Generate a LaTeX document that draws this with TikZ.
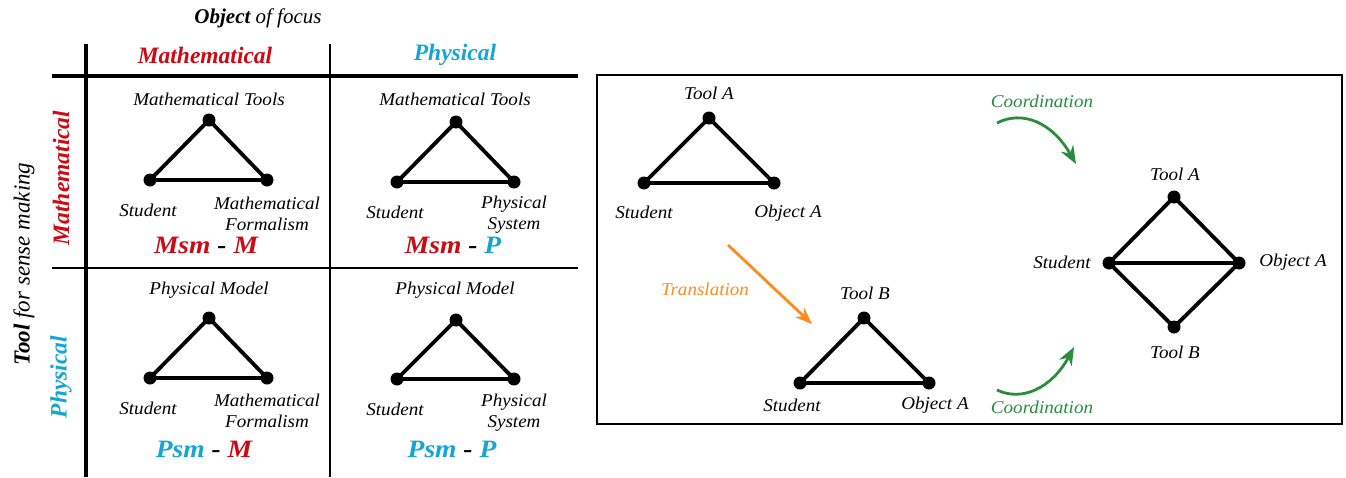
\documentclass[tikz,border=0pt]{standalone}
\usepackage{fontspec}
\setmainfont{Liberation Serif}
\usetikzlibrary{arrows.meta}
\definecolor{mred}{HTML}{CC0A14}
\definecolor{mcyan}{HTML}{14A5D2}
\definecolor{mgreen}{HTML}{2A8C3C}
\definecolor{morange}{HTML}{FF8A1E}
\tikzset{
  dot/.style={circle,fill=black,inner sep=0pt,minimum size=13pt},
  edge/.style={line width=3.8pt,line join=round},
  lbl/.style={font=\fontsize{18}{21}\selectfont\itshape,inner sep=0pt,align=center,xscale=1.06},
  code/.style={font=\fontsize{25}{28}\selectfont\bfseries\itshape,inner sep=0pt,xscale=1.1},
  head/.style={font=\fontsize{23.5}{27}\selectfont\bfseries\itshape,inner sep=0pt},
  thickrule/.style={line width=3.8pt},
  thinrule/.style={line width=2pt},
  coord/.style={mgreen,line width=2.8pt,-{Stealth[length=18pt,width=14pt]}},
  trans/.style={morange,line width=2.8pt,-{Stealth[length=17pt,width=13pt]}}
}
\begin{document}
\begin{tikzpicture}[x=1pt,y=-1pt]
\useasboundingbox (0,0) rectangle (1346,477);
% headers
\node[font=\fontsize{21}{24}\selectfont\itshape,inner sep=0pt] (oof) at (258,18) {\textbf{Object} of focus};
\node[head,mred] (hm) at (205,55) {Mathematical};
\node[head,mcyan] (hp) at (455,55) {Physical};
\node[font=\fontsize{23}{26}\selectfont\itshape,inner sep=0pt,rotate=90] (tfs) at (24,264) {\textbf{Tool} for sense making};
\node[head,mred,rotate=90] (vm) at (61,178) {Mathematical};
\node[head,mcyan,rotate=90] (vp) at (61,377) {Physical};
% grid
\draw[thickrule] (52,76) -- (578,76);
\draw[thickrule] (86,44) -- (86,477);
\draw[thinrule] (52,268) -- (578,268);
\draw[thinrule] (330,44) -- (330,477);
% cell 1
\node[lbl] (l1t) at (209,99) {Mathematical Tools};
\node[dot] (a1) at (209,120) {};
\node[dot] (b1) at (150,180) {};
\node[dot] (c1) at (267,180) {};
\draw[edge] (a1.center) -- (b1.center) -- (c1.center) -- cycle;
\node[lbl] (l1s) at (148,210) {Student};
\node[lbl] (l1o) at (267,214) {Mathematical\\Formalism};
\node[code] (k1) at (206,245) {\textcolor{mred}{Msm} - \textcolor{mred}{M}};
% cell 2
\node[lbl] (l2t) at (455,99) {Mathematical Tools};
\node[dot] (a2) at (456,122) {};
\node[dot] (b2) at (397,182) {};
\node[dot] (c2) at (514,182) {};
\draw[edge] (a2.center) -- (b2.center) -- (c2.center) -- cycle;
\node[lbl] (l2s) at (395,212) {Student};
\node[lbl] (l2o) at (514,215) {Physical\\System};
\node[code] (k2) at (453,245) {\textcolor{mred}{Msm} - \textcolor{mcyan}{P}};
% cell 3
\node[lbl] (l3t) at (209,290) {Physical Model};
\node[dot] (a3) at (209,318) {};
\node[dot] (b3) at (150,378) {};
\node[dot] (c3) at (267,378) {};
\draw[edge] (a3.center) -- (b3.center) -- (c3.center) -- cycle;
\node[lbl] (l3s) at (148,408) {Student};
\node[lbl] (l3o) at (267,411) {Mathematical\\Formalism};
\node[code] (k3) at (204,449) {\textcolor{mcyan}{Psm} - \textcolor{mred}{M}};
% cell 4
\node[lbl] (l4t) at (455,290) {Physical Model};
\node[dot] (a4) at (456,320) {};
\node[dot] (b4) at (397,379) {};
\node[dot] (c4) at (514,379) {};
\draw[edge] (a4.center) -- (b4.center) -- (c4.center) -- cycle;
\node[lbl] (l4s) at (395,409) {Student};
\node[lbl] (l4o) at (514,413) {Physical\\System};
\node[code] (k4) at (452,449) {\textcolor{mcyan}{Psm} - \textcolor{mcyan}{P}};
% right box
\draw[line width=2.4pt] (597,75) rectangle (1342,424);
% triangle A
\node[dot] (ta) at (709,118) {};
\node[dot] (sa) at (644,183) {};
\node[dot] (oa) at (774,183) {};
\draw[edge] (ta.center) -- (sa.center) -- (oa.center) -- cycle;
\node[lbl] (lta) at (709,93) {Tool A};
\node[lbl] (lsa) at (644,212) {Student};
\node[lbl] (loa) at (788,213) {Object A};
% translation
\coordinate (trS) at (728,245);
\coordinate (trE) at (812,324);
\draw[trans] (trS) -- (trE);
\node[lbl,morange] (ltr) at (705,289) {Translation};
% triangle B
\node[dot] (tb) at (864,318) {};
\node[dot] (sb) at (800,383) {};
\node[dot] (ob) at (929,383) {};
\draw[edge] (tb.center) -- (sb.center) -- (ob.center) -- cycle;
\node[lbl] (ltb) at (865,293) {Tool B};
\node[lbl] (lsb) at (792,405) {Student};
\node[lbl] (lob) at (935,405) {Object A};
% diamond
\node[dot] (dta) at (1174,197) {};
\node[dot] (ds) at (1109,263) {};
\node[dot] (doa) at (1239,263) {};
\node[dot] (dtb) at (1174,327) {};
\draw[edge] (dta.center) -- (ds.center) -- (dtb.center) -- (doa.center) -- cycle;
\draw[edge] (ds.center) -- (doa.center);
\node[lbl] (ldta) at (1175,174) {Tool A};
\node[lbl] (lds) at (1062,262) {Student};
\node[lbl] (ldoa) at (1293,262) {Object A};
\node[lbl] (ldtb) at (1175,352) {Tool B};
% coordination
\node[lbl,mgreen] (lc1) at (1042,101) {Coordination};
\coordinate (c1S) at (997,123);
\coordinate (c1E) at (1076,164);
\draw[coord] (c1S) .. controls (1022,110) and (1052,122) .. (c1E);
\node[lbl,mgreen] (lc2) at (1042,407) {Coordination};
\coordinate (c2S) at (997,390);
\coordinate (c2E) at (1074,347);
\draw[coord] (c2S) .. controls (1022,402) and (1052,388) .. (c2E);
\end{tikzpicture}
\end{document}
